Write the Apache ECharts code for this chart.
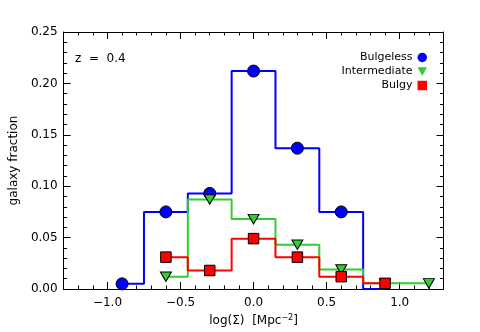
<!DOCTYPE html>
<html><head><meta charset="utf-8">
<script src="https://cdn.jsdelivr.net/npm/echarts@6/dist/echarts.min.js"></script>
<style>html,body{margin:0;padding:0;background:#fff}#c{width:480px;height:332px}</style>
</head><body><div id="c"></div>
<script>
// Data (bin centres in log(Sigma), galaxy fraction)
const binX = [-0.9, -0.6, -0.3, 0.0, 0.3, 0.6, 0.9, 1.2];
const bulgeless = [0.005, 0.075, 0.093, 0.212, 0.137, 0.075, 0.0, null];
const intermediate = [null, 0.012, 0.087, 0.068, 0.043, 0.019, 0.0055, 0.0055];
const bulgy = [null, 0.031, 0.018, 0.049, 0.031, 0.012, 0.0055, null];
const xMajorTicks = [-1.0, -0.5, 0.0, 0.5, 1.0];
const xMinorTicks = [-1.2,-1.1,-0.9,-0.8,-0.7,-0.6,-0.4,-0.3,-0.2,-0.1,0.1,0.2,0.3,0.4,0.6,0.7,0.8,0.9,1.1,1.2];
const seriesNames = ['Bulgeless', 'Intermediate', 'Bulgy'];
const colors = ['#0000ff', '#33cc33', '#ff0000'];
const triDown = 'path://M0,0L10,0L5,9Z';
const symbols = ['circle', triDown, 'rect'];
const symSizes = [12, [11, 9.5], 10.5];

function toData(vals) {
  const out = [];
  vals.forEach((v, i) => {
    if (v === null) return;
    const item = { value: [binX[i], v] };
    if (v === 0) item.symbol = 'none';
    out.push(item);
  });
  return out;
}
const FONT = 'DejaVu Sans';
const fmtX = v => (Math.abs(v) < 1e-9 ? '0.0' : v.toFixed(1)).replace('-', '\u2212');

function xAx(pos, ticks, len, labels) {
  return {
    type: 'value', position: pos, min: -1.3, max: 1.3,
    axisLine: { show: true, onZero: false, lineStyle: { color: '#000', width: 1 } },
    axisTick: { show: true, inside: true, length: len, customValues: ticks, lineStyle: { color: '#000', width: 1 } },
    axisLabel: labels ? { show: true, customValues: ticks, formatter: fmtX, margin: 8, color: '#000', fontFamily: FONT, fontSize: 12 } : { show: false },
    splitLine: { show: false }
  };
}
function yAx(pos, labels) {
  return {
    type: 'value', position: pos, min: 0, max: 0.25, interval: 0.05,
    axisLine: { show: true, onZero: false, lineStyle: { color: '#000', width: 1 } },
    axisTick: { show: true, inside: true, length: 7, lineStyle: { color: '#000' } },
    minorTick: { show: true, splitNumber: 5, length: 3.5, lineStyle: { color: '#000' } },
    axisLabel: labels ? { show: true, formatter: v => v.toFixed(2), margin: 6, color: '#000', fontFamily: FONT, fontSize: 12 } : { show: false },
    splitLine: { show: false }, minorSplitLine: { show: false }
  };
}
const xAxes = [xAx('bottom', xMajorTicks, 7, true), xAx('bottom', xMinorTicks, 3.5, false), xAx('top', xMajorTicks, 7, false), xAx('top', xMinorTicks, 3.5, false)];
xAxes[0].name = '{a|log(\u03a3)  [Mpc}{s|\u22122}{a|]}';
xAxes[0].nameLocation = 'middle';
xAxes[0].nameGap = 25;
xAxes[0].nameTextStyle = { rich: { a: { fontFamily: FONT, fontSize: 12, color: '#000' }, s: { fontFamily: FONT, fontSize: 8, color: '#000', verticalAlign: 'top', padding: [0, 0, 6, 0] } } };
const yAxes = [yAx('left', true), yAx('right', false)];
yAxes[0].name = 'galaxy fraction';
yAxes[0].nameLocation = 'middle';
yAxes[0].nameGap = 42;
yAxes[0].nameTextStyle = { fontFamily: FONT, fontSize: 12, color: '#000' };

const vals = [bulgeless, intermediate, bulgy];
const series = seriesNames.map((n, i) => ({
  name: n, type: 'line', step: 'middle', data: toData(vals[i]),
  xAxisIndex: 0, yAxisIndex: 0,
  symbol: symbols[i], symbolSize: symSizes[i], showAllSymbol: true,
  lineStyle: { color: colors[i], width: 2 },
  itemStyle: { color: colors[i], borderColor: '#000', borderWidth: 1, opacity: 1 },
  animation: false, z: 2 + i
}));

const chart = echarts.init(document.getElementById('c'), null, { renderer: 'canvas' });
chart.setOption({
  animation: false,
  backgroundColor: '#fff',
  grid: { left: 60, right: 36.5, top: 32, bottom: 42 },
  xAxis: xAxes, yAxis: yAxes, series: series,
  legend: {
    orient: 'vertical', right: 53, top: 50.5, align: 'right',
    itemWidth: 9.5, itemHeight: 9.5, itemGap: 0, padding: 0,
    textStyle: { fontFamily: FONT, fontSize: 11, color: '#000', lineHeight: 14 },
    itemStyle: { borderWidth: 0 },
    data: seriesNames.map((n, i) => ({ name: n, icon: symbols[i] }))
  },
  graphic: [{ type: 'text', left: 75, top: 53, style: { text: 'z  =  0.4', font: '12px "DejaVu Sans"', fill: '#000' } }]
});
</script></body></html>
